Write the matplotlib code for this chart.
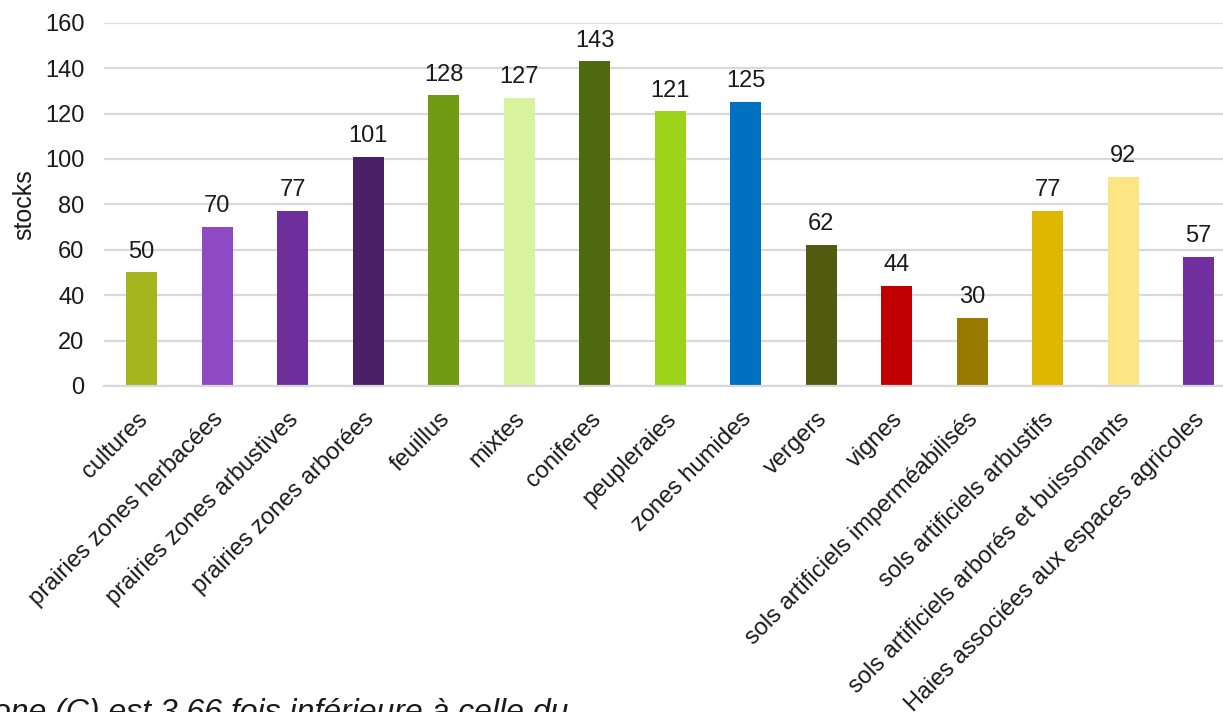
import matplotlib.pyplot as plt
import matplotlib.transforms as mtransforms
import numpy as np

categories = ["cultures", "prairies zones herbacées", "prairies zones arbustives",
              "prairies zones arborées", "feuillus", "mixtes", "coniferes",
              "peupleraies", "zones humides", "vergers", "vignes",
              "sols artificiels imperméabilisés", "sols artificiels arbustifs",
              "sols artificiels arborés et buissonants",
              "Haies associées aux espaces agricoles"]
stocks = [50, 70, 77, 101, 128, 127, 143, 121, 125, 62, 44, 30, 77, 92, 57]
colors = ["#a4b51e", "#8e4ac2", "#6e2f9b", "#4a1f66", "#729b14", "#d9f29e",
          "#4f6a10", "#9bd21a", "#0070c0", "#525c11", "#c00000", "#997a00",
          "#e0b700", "#fee584", "#7030a0"]
yticks = [0, 20, 40, 60, 80, 100, 120, 140, 160]

plt.rcParams['font.family'] = ['Liberation Sans', 'DejaVu Sans']
txt = "#1a1a1a"

fig = plt.figure(figsize=(12.23, 7.12), dpi=100)
ax = fig.add_axes([0.085, 0.458, 0.926, 0.51])

x = np.arange(len(categories))
bars = ax.bar(x, stocks, width=0.41, color=colors, zorder=2)
for rect, v in zip(bars, stocks):
    ax.annotate(str(v), (rect.get_x() + rect.get_width() / 2, v),
                xytext=(0, 7), textcoords="offset points",
                ha="center", va="bottom", fontsize=17, color=txt)

ax.set_xlim(-0.5, len(categories) - 0.5)
ax.set_ylim(0, 160)
ax.set_yticks(yticks)
ax.yaxis.grid(True, color="#d9d9d9", linewidth=1.6, zorder=0)
ax.set_axisbelow(True)
ax.tick_params(axis="both", length=0, labelsize=17, colors=txt)
ax.tick_params(axis="y", pad=14)
ax.set_xticks(x)
ax.set_xticklabels(categories, rotation=45, ha="right", rotation_mode="anchor")
ax.tick_params(axis="x", pad=16)
# nudge the slanted labels left so they end under the bar centres
shift = mtransforms.ScaledTranslation(-0.05, 0, fig.dpi_scale_trans)
for lab in ax.get_xticklabels():
    lab.set_transform(lab.get_transform() + shift)
for side in ["top", "right", "left"]:
    ax.spines[side].set_visible(False)
ax.spines["bottom"].set_color("#d9d9d9")
ax.spines["bottom"].set_linewidth(1.6)
ax.set_ylabel("stocks", fontsize=18, color=txt, labelpad=6)

fig.text(-0.019, 0.019, "zone (C) est 3,66 fois inférieure à celle du",
         fontsize=23, style="italic", va="top", ha="left", color=txt)

fig.savefig("out.png", dpi=100)
